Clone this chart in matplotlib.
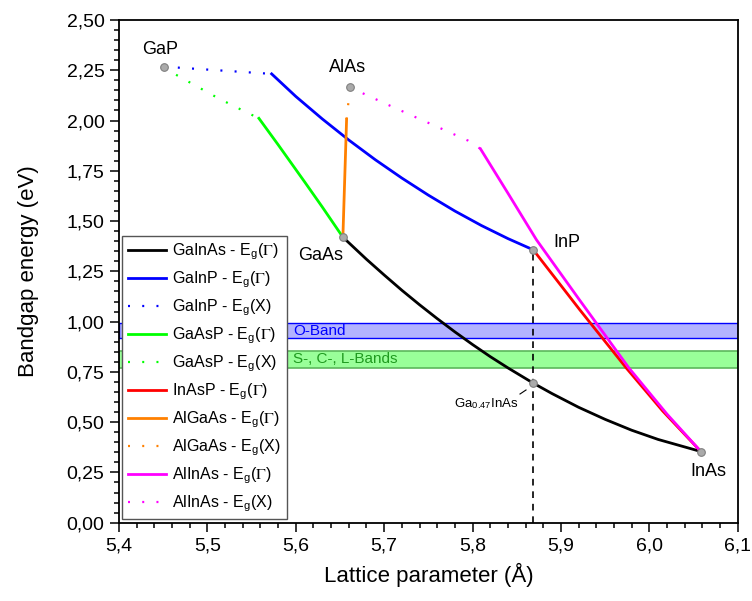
import matplotlib
matplotlib.use("Agg")
import matplotlib.pyplot as plt
from matplotlib.ticker import MultipleLocator, FuncFormatter

plt.rcParams['font.family'] = ['Liberation Sans', 'DejaVu Sans']
plt.rcParams['mathtext.fontset'] = 'stix'

# ---------------- data ----------------
gainas_x = [5.6533, 5.68, 5.70, 5.72, 5.74, 5.76, 5.78, 5.80, 5.82, 5.84, 5.8687, 5.89, 5.92, 5.95, 5.98, 6.01, 6.0583]
gainas_y = [1.42, 1.310, 1.232, 1.156, 1.084, 1.015, 0.949, 0.886, 0.826, 0.770, 0.694, 0.642, 0.574, 0.514, 0.460, 0.414, 0.354]

gainp_g_x = [5.5727, 5.60, 5.63, 5.66, 5.69, 5.72, 5.75, 5.78, 5.81, 5.84, 5.8687]
gainp_g_y = [2.232, 2.120, 2.008, 1.903, 1.805, 1.714, 1.629, 1.550, 1.478, 1.413, 1.357]

gainp_x_x = [5.4505, 5.5727]
gainp_x_y = [2.268, 2.232]

gaasp_g_x = [5.5583, 5.58, 5.61, 5.63, 5.6533]
gaasp_g_y = [2.011, 1.880, 1.695, 1.570, 1.42]

gaasp_x_x = [5.4505, 5.484, 5.5123, 5.5405, 5.5583]
gaasp_x_y = [2.262, 2.180, 2.111, 2.049, 2.011]

inasp_g_x = [5.8687, 5.9213, 5.974, 6.015, 6.0583]
inasp_g_y = [1.357, 1.059, 0.769, 0.556, 0.354]

algaas_g_x = [5.6533, 5.6575]
algaas_g_y = [1.42, 2.006]

algaas_x_x = [5.6575, 5.6593, 5.6611]
algaas_x_y = [2.006, 2.080, 2.165]

alinas_g_x = [5.809, 5.84, 5.8723, 5.921, 5.977, 6.02, 6.0583]
alinas_g_y = [1.859, 1.639, 1.407, 1.108, 0.769, 0.540, 0.354]

alinas_x_x = [5.6611, 5.7065, 5.7359, 5.7656, 5.795, 5.809]
alinas_x_y = [2.165, 2.074, 2.016, 1.958, 1.900, 1.859]

point_names = ['GaP', 'AlAs', 'GaAs', 'InP', 'InAs']
point_x = [5.4505, 5.6611, 5.6533, 5.8687, 6.0583]
point_y = [2.268, 2.165, 1.42, 1.357, 0.354]
ga047_x = 5.8687
ga047_y = 0.694

o_band = [0.918, 0.993]
scl_band = [0.769, 0.856]

# ---------------- figure ----------------
fig = plt.figure(figsize=(7.52, 6.01), dpi=100)
ax = fig.add_axes([119/752, 1-522.7/601, (737.7-119)/752, (522.7-20)/601])

lw = 2.0
dlw = 1.6
dot = (0, (0.9, 5.5))

ax.axhspan(o_band[0], o_band[1], facecolor='#b3b3ff', edgecolor='#0000ff', lw=1.0, zorder=1)
ax.axhspan(scl_band[0], scl_band[1], facecolor='#99ff99', edgecolor='#5cb85c', lw=1.2, zorder=1)
ax.text(5.597, (o_band[0]+o_band[1])/2, 'O-Band', color='#0000ff', fontsize=11, va='center', ha='left', zorder=2)
ax.text(5.597, (scl_band[0]+scl_band[1])/2, 'S-, C-, L-Bands', color='#1f9a1f', fontsize=11, va='center', ha='left', zorder=2)

ax.plot([ga047_x, ga047_x], [0, point_y[3]], color='black', lw=1.2, ls=(0, (4, 3.5)), zorder=2)

G = r'$\Gamma$'
l1, = ax.plot(gainas_x, gainas_y, color='black', lw=lw, zorder=3, label='GaInAs - E$_\\mathregular{g}$(' + G + ')')
l2, = ax.plot(gainp_g_x, gainp_g_y, color='#0000ff', lw=lw, zorder=3, label='GaInP - E$_\\mathregular{g}$(' + G + ')')
l3, = ax.plot(gainp_x_x, gainp_x_y, color='#0000ff', lw=dlw, ls=dot, zorder=3, label='GaInP - E$_\\mathregular{g}$(X)')
l4, = ax.plot(gaasp_g_x, gaasp_g_y, color='#00ff00', lw=lw, zorder=3, label='GaAsP - E$_\\mathregular{g}$(' + G + ')')
l5, = ax.plot(gaasp_x_x, gaasp_x_y, color='#00ff00', lw=dlw, ls=dot, zorder=3, label='GaAsP - E$_\\mathregular{g}$(X)')
l6, = ax.plot(inasp_g_x, inasp_g_y, color='#ff0000', lw=lw, zorder=3, label='InAsP - E$_\\mathregular{g}$(' + G + ')')
l7, = ax.plot(algaas_g_x, algaas_g_y, color='#ff8000', lw=lw, zorder=3, label='AlGaAs - E$_\\mathregular{g}$(' + G + ')')
l8, = ax.plot(algaas_x_x, algaas_x_y, color='#ff8000', lw=dlw, ls=dot, zorder=3, label='AlGaAs - E$_\\mathregular{g}$(X)')
l9, = ax.plot(alinas_g_x, alinas_g_y, color='#ff00ff', lw=lw, zorder=3, label='AlInAs - E$_\\mathregular{g}$(' + G + ')')
l10, = ax.plot(alinas_x_x, alinas_x_y, color='#ff00ff', lw=dlw, ls=dot, zorder=3, label='AlInAs - E$_\\mathregular{g}$(X)')

mx = point_x + [ga047_x]
my = point_y + [ga047_y]
ax.plot(mx, my, ls='none', marker='o', ms=5.5, mfc='#aaaaaa', mec='#808080', mew=0.8, zorder=5)

lab_pos = {'GaP': (5.4464, 2.351), 'AlAs': (5.6585, 2.266), 'GaAs': (5.6279, 1.331),
           'InP': (5.9068, 1.391), 'InAs': (6.0671, 0.257)}
for n in point_names:
    ax.text(*lab_pos[n], n, fontsize=13, ha='center', va='center', zorder=6)
ax.text(5.8525, 0.590, 'Ga$_\\mathregular{0.47}$InAs', fontsize=9.5, ha='right', va='center', zorder=6)
ax.plot([5.8537, 5.8605], [0.64, 0.66], color='black', lw=0.8, zorder=6)

ax.set_xlim(5.4, 6.1)
ax.set_ylim(0, 2.5)
ax.xaxis.set_major_locator(MultipleLocator(0.1))
ax.xaxis.set_minor_locator(MultipleLocator(0.02))
ax.yaxis.set_major_locator(MultipleLocator(0.25))
ax.yaxis.set_minor_locator(MultipleLocator(0.05))
ax.xaxis.set_major_formatter(FuncFormatter(lambda v, p: f"{v:.1f}".replace('.', ',')))
ax.yaxis.set_major_formatter(FuncFormatter(lambda v, p: f"{v:.2f}".replace('.', ',')))
ax.tick_params(which='both', direction='out', top=False, right=False, width=1.1, labelsize=14)
ax.tick_params(which='major', length=6.5, pad=4)
ax.tick_params(which='minor', length=3.5)
for s in ax.spines.values():
    s.set_linewidth(1.3)

ax.set_xlabel('Lattice parameter (Å)', fontsize=16, labelpad=6)
ax.set_ylabel('Bandgap energy (eV)', fontsize=16, labelpad=20)

leg = ax.legend(handles=[l1, l2, l3, l4, l5, l6, l7, l8, l9, l10], loc='lower left',
                bbox_to_anchor=(0.005, 0.007), borderaxespad=0, fontsize=11.5,
                handlelength=2.4, handletextpad=0.4, labelspacing=0.5,
                borderpad=0.35, fancybox=False, framealpha=1, edgecolor='#555555')
leg.get_frame().set_linewidth(1.0)
leg.set_zorder(10)

fig.savefig('out.png', dpi=100)
